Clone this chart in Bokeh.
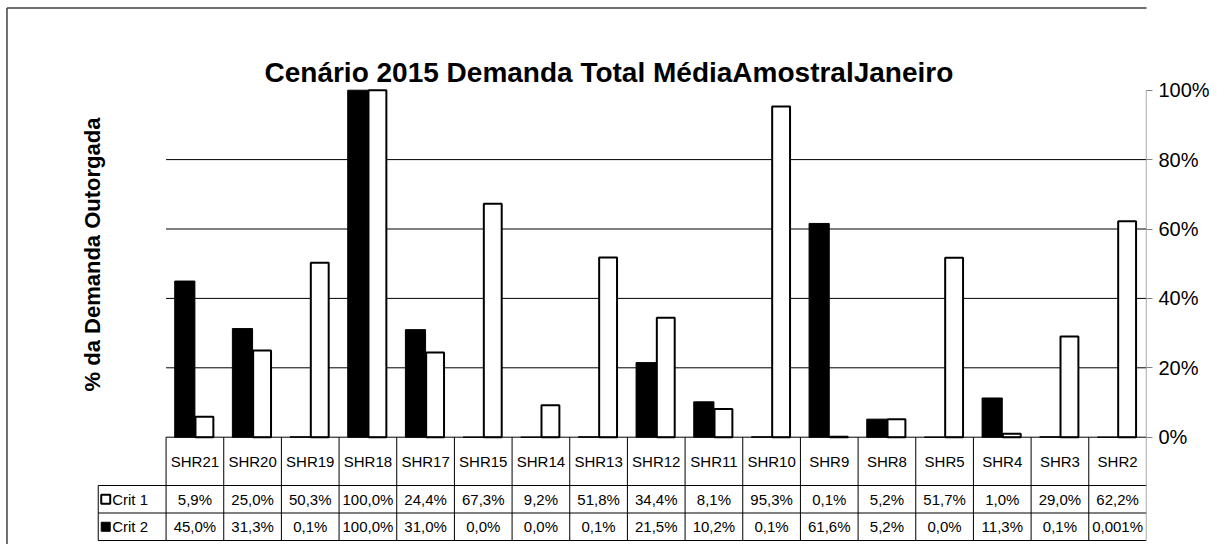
import math
from bokeh.plotting import figure
from bokeh.models import Range1d, LinearAxis, FixedTicker, PrintfTickFormatter, ColumnDataSource
from bokeh.embed import file_html
from bokeh.resources import INLINE
from bokeh.core.properties import value

# ---------------- data ----------------
categories = ["SHR21", "SHR20", "SHR19", "SHR18", "SHR17", "SHR15", "SHR14", "SHR13", "SHR12",
              "SHR11", "SHR10", "SHR9", "SHR8", "SHR5", "SHR4", "SHR3", "SHR2"]
crit1 = [5.9, 25.0, 50.3, 100.0, 24.4, 67.3, 9.2, 51.8, 34.4, 8.1, 95.3, 0.1, 5.2, 51.7, 1.0, 29.0, 62.2]
crit2 = [45.0, 31.3, 0.1, 100.0, 31.0, 0.0, 0.0, 0.1, 21.5, 10.2, 0.1, 61.6, 5.2, 0.0, 11.3, 0.1, 0.001]
crit1_labels = ["5,9%", "25,0%", "50,3%", "100,0%", "24,4%", "67,3%", "9,2%", "51,8%", "34,4%",
                "8,1%", "95,3%", "0,1%", "5,2%", "51,7%", "1,0%", "29,0%", "62,2%"]
crit2_labels = ["45,0%", "31,3%", "0,1%", "100,0%", "31,0%", "0,0%", "0,0%", "0,1%", "21,5%",
                "10,2%", "0,1%", "61,6%", "5,2%", "0,0%", "11,3%", "0,1%", "0,001%"]
series_names = ["Crit 1", "Crit 2"]
y_ticks = [0, 20, 40, 60, 80, 100]
grid_values = [20, 40, 60, 80]
title_text = "Cenário 2015 Demanda Total MédiaAmostralJaneiro"
y_label = "% da Demanda Outorgada"

FONT = "Liberation Sans"
n = len(categories)

# ---------------- layout helpers (canvas pixel -> data units) ----------------
W, H = 1212, 544
RIGHT_PANEL = 63
X0, XW = 166.0, 57.82      # left of category area, px per category
Y0, YS = 436.7, 3.47       # px of 0 %, px per 1 %
def dx(px):
    return (px - X0) / XW
def dy(py):
    return (Y0 - py) / YS

p = figure(width=W, height=H, output_backend="svg", toolbar_location=None,
           x_range=Range1d(dx(0), dx(W - RIGHT_PANEL)), y_range=Range1d(dy(H), dy(0)),
           x_axis_location=None, y_axis_location=None,
           min_border_left=0, min_border_top=0, min_border_bottom=0, min_border_right=RIGHT_PANEL)
p.outline_line_color = None
p.grid.grid_line_color = None
p.background_fill_color = "white"
p.border_fill_color = "white"

# right y axis
yaxis = LinearAxis(ticker=FixedTicker(ticks=y_ticks), formatter=PrintfTickFormatter(format="%d%%"))
yaxis.axis_line_color = None
yaxis.major_tick_line_color = "#808080"
yaxis.major_tick_out = 6
yaxis.major_tick_in = 0
yaxis.minor_tick_line_color = None
yaxis.major_label_text_font = FONT
yaxis.major_label_text_font_size = "20px"
yaxis.major_label_text_color = "black"
yaxis.major_label_standoff = 6
p.add_layout(yaxis, "right")

xe = float(n)
tb1, tb2, tb3 = dy(485), dy(512.5), dy(540)
xl = dx(98)

# gridlines
p.segment(x0=[0] * len(grid_values), x1=[xe] * len(grid_values), y0=grid_values, y1=grid_values,
          line_color="black", line_width=1)

# bars
idx = list(range(n))
src = ColumnDataSource(dict(xc2=[i + 0.5 - 0.175 for i in idx], xc1=[i + 0.5 + 0.165 for i in idx],
                            c1=crit1, c2=crit2))
p.vbar(x="xc2", width=0.35, top="c2", bottom=0, source=src, fill_color="black", line_color="black", line_width=1)
p.vbar(x="xc1", width=0.31, top="c1", bottom=0, source=src, fill_color="white", line_color="black", line_width=2)

# zero line / table top
p.segment(x0=[0], x1=[xe], y0=[0], y1=[0], line_color="black", line_width=1)
# table horizontal lines
p.segment(x0=[xl, xl, xl], x1=[xe, xe, xe], y0=[tb1, tb2, tb3], y1=[tb1, tb2, tb3],
          line_color="black", line_width=1)
# table vertical lines
p.segment(x0=idx, x1=idx, y0=[0] * n, y1=[tb3] * n, line_color="black", line_width=1)
p.segment(x0=[xl], x1=[xl], y0=[tb1], y1=[tb3], line_color="black", line_width=1)
# right axis line (continues as table border)
p.segment(x0=[xe], x1=[xe], y0=[100], y1=[tb3], line_color="#808080", line_width=1.2)

# table text
cx = [i + 0.5 for i in idx]
TFS = "15px"
p.text(x=cx, y=[dy(461)] * n, text=categories, text_font=value(FONT), text_font_size=TFS,
       text_align="center", text_baseline="middle", text_color="black")
p.text(x=cx, y=[(tb1 + tb2) / 2] * n, text=crit1_labels, text_font=value(FONT), text_font_size=TFS,
       text_align="center", text_baseline="middle", text_color="black")
p.text(x=cx, y=[(tb2 + tb3) / 2] * n, text=crit2_labels, text_font=value(FONT), text_font_size=TFS,
       text_align="center", text_baseline="middle", text_color="black")

# legend keys
p.scatter(x=[dx(105.5)] * 2, y=[(tb1 + tb2) / 2, (tb2 + tb3) / 2], marker="square", size=9,
          fill_color=["white", "black"], line_color="black", line_width=[2, 1])
p.text(x=[dx(112)] * 2, y=[(tb1 + tb2) / 2, (tb2 + tb3) / 2], text=series_names, text_font=value(FONT),
       text_font_size=TFS, text_align="left", text_baseline="middle", text_color="black")

# title
p.text(x=[dx(610)], y=[dy(72)], text=[title_text], text_font=value(FONT), text_font_size="28px",
       text_font_style="bold", text_align="center", text_baseline="middle", text_color="black")
# y label
p.text(x=[dx(92)], y=[dy(254)], text=[y_label], text_font=value(FONT), text_font_size="22px",
       text_font_style="bold", text_align="center", text_baseline="middle", text_color="black",
       angle=math.pi / 2)

# outer frame (left / top edges)
p.segment(x0=[dx(6.5), dx(6.5)], x1=[dx(6.5), xe + 5], y0=[dy(7.5), dy(7.5)], y1=[dy(H), dy(7.5)],
          line_color="#404040", line_width=1.5)

open("out.html", "w").write(file_html(p, INLINE))
